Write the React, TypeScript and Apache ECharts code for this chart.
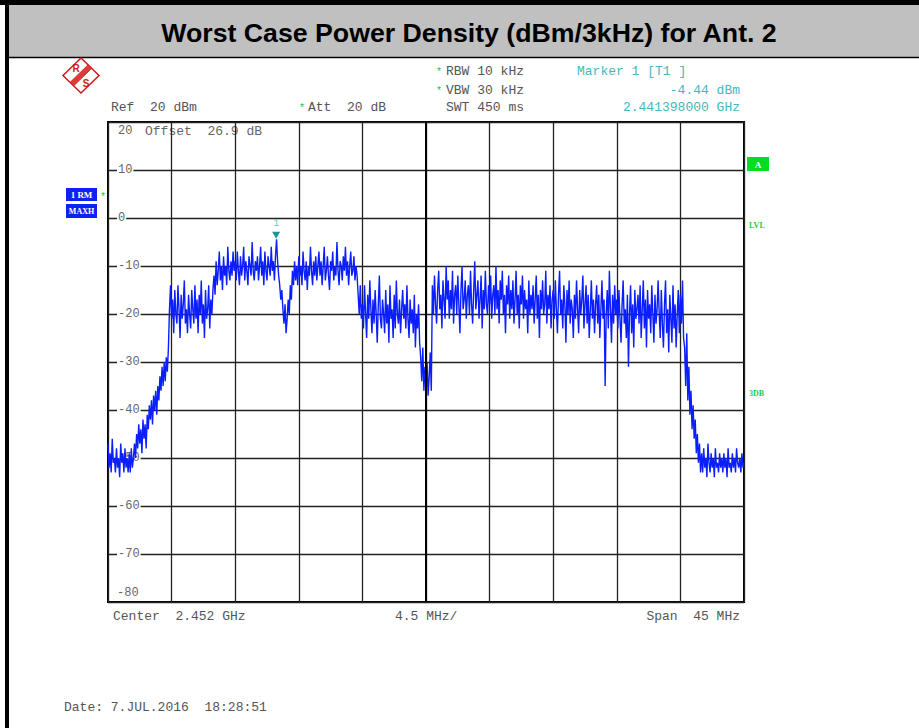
import React, { useEffect, useRef } from "react";
import * as echarts from "echarts";

// ---- data (dBm, one value every 0.075 MHz from the start of the 45 MHz span) ----
const STEP_MHZ = 0.075;
const SPAN_MHZ = 45;
const tr00 = [-47, -52, -49, -53, -46, -51, -50, -53, -48, -52, -50, -54, -47, -51, -49, -53, -48, -52, -50, -53];
const tr01 = [-49, -53, -48, -52, -50, -47, -50, -45, -48, -43, -47, -44, -49, -42, -46, -43, -48, -41, -44, -39];
const tr02 = [-42, -38, -43, -37, -40, -36, -41, -35, -38, -33, -36, -31, -35, -30, -34, -29, -32, -27, -19, -14];
const tr03 = [-21, -17, -24, -15, -20, -22, -14, -19, -25, -16, -21, -18, -13, -22, -19, -24, -16, -20, -23, -15];
const tr04 = [-19, -22, -14, -21, -17, -24, -16, -20, -13, -22, -18, -25, -15, -21, -19, -14, -23, -17, -20, -15];
const tr05 = [-12, -16, -9, -14, -11, -7, -13, -10, -15, -8, -12, -10, -14, -6, -11, -13, -9, -12, -7, -11];
const tr06 = [-9, -13, -7, -11, -14, -8, -12, -10, -6, -13, -9, -11, -14, -8, -10, -12, -5, -11, -13, -9];
const tr07 = [-11, -8, -13, -10, -6, -12, -9, -14, -7, -11, -13, -8, -10, -12, -6, -11, -9, -13, -8, -4.44];
const tr08 = [-9, -12, -14, -17, -15, -19, -22, -18, -24, -21, -17, -20, -14, -17, -11, -14, -9, -13, -10, -14];
const tr09 = [-8, -12, -10, -14, -7, -11, -13, -9, -15, -10, -12, -6, -11, -14, -9, -12, -8, -13, -10, -7];
const tr10 = [-12, -9, -14, -10, -6, -13, -11, -8, -12, -15, -9, -11, -7, -13, -10, -12, -5, -11, -14, -9];
const tr11 = [-10, -13, -8, -11, -6, -12, -9, -14, -10, -7, -12, -11, -8, -13, -10, -12, -16, -20, -14, -21];
const tr12 = [-18, -23, -14, -20, -25, -16, -21, -13, -19, -24, -17, -22, -15, -20, -26, -18, -12, -21, -23, -17];
const tr13 = [-20, -24, -15, -22, -18, -26, -14, -21, -19, -25, -16, -23, -13, -20, -22, -17, -24, -19, -15, -21];
const tr14 = [-18, -23, -14, -21, -25, -17, -22, -19, -24, -16, -27, -20, -23, -18, -26, -29, -34, -27, -36, -31];
const tr15 = [-35, -30, -37, -33, -28, -36, -14, -20, -12, -18, -22, -15, -11, -19, -16, -23, -13, -17, -21, -10];
const tr16 = [-17, -13, -21, -15, -19, -11, -22, -16, -14, -20, -12, -18, -24, -15, -10, -19, -17, -13, -21, -16];
const tr17 = [-14, -20, -11, -18, -22, -15, -9, -19, -16, -13, -21, -17, -12, -23, -15, -19, -11, -18, -20, -14];
const tr18 = [-18, -12, -21, -16, -14, -20, -10, -19, -15, -22, -13, -17, -11, -20, -16, -24, -14, -18, -12, -21];
const tr19 = [-15, -19, -13, -22, -17, -11, -20, -16, -23, -14, -18, -12, -21, -15, -19, -17, -24, -13, -20, -16];
const tr20 = [-19, -14, -22, -17, -12, -21, -16, -25, -15, -19, -13, -20, -18, -11, -22, -16, -19, -14, -23, -17];
const tr21 = [-15, -21, -13, -19, -24, -16, -11, -20, -17, -23, -14, -18, -26, -15, -20, -13, -22, -17, -19, -25];
const tr22 = [-16, -21, -13, -19, -24, -15, -20, -17, -12, -23, -18, -14, -22, -16, -25, -19, -13, -21, -17, -24];
const tr23 = [-18, -14, -22, -16, -25, -19, -13, -21, -17, -35, -20, -15, -23, -11, -19, -26, -16, -22, -14, -20];
const tr24 = [-17, -23, -15, -21, -26, -18, -13, -22, -19, -25, -16, -31, -20, -14, -24, -18, -27, -15, -21, -19];
const tr25 = [-16, -22, -14, -25, -19, -13, -23, -17, -27, -15, -21, -18, -24, -14, -20, -26, -16, -22, -19, -13];
const tr26 = [-20, -25, -15, -22, -27, -18, -13, -24, -19, -28, -16, -21, -26, -14, -23, -18, -27, -20, -15, -24];
const tr27 = [-16, -22, -13, -25, -27, -35, -24, -38, -31, -41, -36, -44, -39, -46, -42, -49, -45, -51, -47, -53];
const tr28 = [-49, -53, -48, -52, -50, -54, -47, -51, -53, -49, -52, -50, -54, -48, -52, -51, -53, -49, -52, -50];
const tr29 = [-53, -49, -52, -50, -54, -48, -52, -51, -53, -49, -52, -50, -53, -48, -51, -52, -50, -53, -49, -52, -51];

const yTicks = [20, 10, 0, -10, -20, -30, -40, -50, -60, -70, -80];
const markerFreqMHz = 11.898; // 2.441398 GHz - 2.4295 GHz
const markerLevel = -4.44;
const centerLineMHz = 22.5;

const MONO = '"Liberation Mono", "DejaVu Sans Mono", monospace';
const GRAY = "#555555";
const CYAN = "#45b6c2";
const GREEN = "#10cc30";

function txt(text: string, x: number, y: number, opts: any = {}) {
  return {
    type: "text",
    z: opts.z ?? 10,
    style: {
      text,
      x,
      y,
      fill: opts.fill ?? GRAY,
      font: opts.font ?? `13px ${MONO}`,
      align: opts.align ?? "left",
      verticalAlign: "middle",
      textAlign: opts.align ?? "left",
      textVerticalAlign: "middle",
    },
  };
}

export default function App() {
  const ref = useRef<HTMLDivElement>(null);
  useEffect(() => {
    if (!ref.current) return;
    const chart = echarts.init(ref.current, null, { renderer: "svg" });
    const trace = [
      ...tr00, ...tr01, ...tr02, ...tr03, ...tr04, ...tr05, ...tr06, ...tr07, ...tr08, ...tr09,
      ...tr10, ...tr11, ...tr12, ...tr13, ...tr14, ...tr15, ...tr16, ...tr17, ...tr18, ...tr19,
      ...tr20, ...tr21, ...tr22, ...tr23, ...tr24, ...tr25, ...tr26, ...tr27, ...tr28, ...tr29,
    ];
    const data = trace.map((v, i) => [Math.min(SPAN_MHZ, +(i * STEP_MHZ).toFixed(3)), v]);

    const graphic: any[] = [
      { type: "rect", z: 1, shape: { x: 0, y: 0, width: 919, height: 5 }, style: { fill: "#000" } },
      { type: "rect", z: 1, shape: { x: 5, y: 0, width: 4, height: 728 }, style: { fill: "#000" } },
      { type: "rect", z: 1, shape: { x: 9, y: 5, width: 910, height: 52 }, style: { fill: "#c0c0c0" } },
      { type: "line", z: 2, shape: { x1: 9, y1: 57.5, x2: 919, y2: 57.5 }, style: { stroke: "#000", lineWidth: 1.5 } },
      txt("Worst Case Power Density (dBm/3kHz) for Ant. 2", 469, 33, {
        font: 'bold 26.7px "Liberation Sans", Arial, sans-serif',
        fill: "#000",
        align: "center",
      }),
      // R&S logo
      {
        type: "polygon", z: 5,
        shape: { points: [[81, 58], [99, 75.5], [81, 93], [63, 75.5]] },
        style: { fill: "none", stroke: "#d01818", lineWidth: 1.5 },
      },
      {
        type: "polygon", z: 5,
        shape: { points: [[88.2, 64.7], [91.8, 68.3], [73.8, 85.8], [70.2, 82.2]] },
        style: { fill: "#e03a3a", stroke: "#d01818", lineWidth: 0.8 },
      },
      txt("R", 76, 68, { font: 'bold 10px "Liberation Sans", sans-serif', fill: "#d01818", align: "center" }),
      txt("S", 86, 83, { font: 'bold 10px "Liberation Sans", sans-serif', fill: "#d01818", align: "center" }),
      // header texts
      txt("*", 436, 72, { fill: GREEN, font: `10px ${MONO}` }),
      txt("RBW 10 kHz", 446, 71),
      txt("*", 436, 91, { fill: GREEN, font: `10px ${MONO}` }),
      txt("VBW 30 kHz", 446, 90),
      txt("SWT 450 ms", 446, 107),
      txt("Marker 1 [T1 ]", 577, 71, { fill: CYAN }),
      txt("-4.44 dBm", 740, 90, { fill: CYAN, align: "right" }),
      txt("2.441398000 GHz", 740, 107, { fill: CYAN, align: "right" }),
      txt("Ref  20 dBm", 111, 107),
      txt("*", 299, 108, { fill: GREEN, font: `10px ${MONO}` }),
      txt("Att  20 dB", 308, 107),
      // inside the plot
      txt("20", 118, 131, { fill: "#666", font: `12px ${MONO}`, z: 0 }),
      txt("Offset  26.9 dB", 145, 131, { fill: "#666", z: 0 }),
      txt("-80", 117, 593, { fill: "#666", font: `12px ${MONO}`, z: 0 }),
      // bottom texts
      txt("Center  2.452 GHz", 113, 616),
      txt("4.5 MHz/", 395, 616),
      txt("Span  45 MHz", 740, 616, { align: "right" }),
      txt("Date: 7.JUL.2016  18:28:51", 64, 707),
      // left trace labels
      { type: "rect", z: 5, shape: { x: 66, y: 188, width: 31, height: 13 }, style: { fill: "#0b22f2" } },
      txt("1 RM", 81.5, 195, { fill: "#fff", font: 'bold 9px "Liberation Serif", serif', align: "center" }),
      { type: "rect", z: 5, shape: { x: 66, y: 204, width: 31, height: 14 }, style: { fill: "#0b22f2" } },
      txt("MAXH", 81.5, 211.5, { fill: "#fff", font: 'bold 8px "Liberation Serif", serif', align: "center" }),
      txt("*", 100, 197, { fill: GREEN, font: `10px ${MONO}` }),
      // right side labels
      { type: "rect", z: 5, shape: { x: 747, y: 157, width: 22, height: 14 }, style: { fill: "#00dd22" } },
      txt("A", 758, 164.5, { fill: "#fff", font: 'bold 9px "Liberation Serif", serif', align: "center" }),
      txt("LVL", 749, 225.5, { fill: "#22cc44", font: 'bold 8px "Liberation Serif", serif' }),
      txt("3DB", 749, 393, { fill: "#22cc44", font: 'bold 8px "Liberation Serif", serif' }),
    ];

    chart.setOption({
      animation: false,
      backgroundColor: "#ffffff",
      grid: {
        left: 108, top: 122, width: 636, height: 480,
        show: true, borderColor: "#000", borderWidth: 2, backgroundColor: "transparent",
      },
      xAxis: {
        type: "value", min: 0, max: SPAN_MHZ, interval: SPAN_MHZ / 10,
        axisLine: { show: false }, axisTick: { show: false }, axisLabel: { show: false },
        splitLine: { show: true, lineStyle: { color: "#222", width: 1.3 } },
      },
      yAxis: {
        type: "value", min: yTicks[yTicks.length - 1], max: yTicks[0], interval: 10,
        axisLine: { show: false }, axisTick: { show: false },
        axisLabel: {
          inside: true, margin: 9, showMinLabel: false, showMaxLabel: false,
          color: "#666", fontFamily: MONO, fontSize: 12,
          backgroundColor: "#fff", padding: [0, 1],
        },
        splitLine: { show: true, lineStyle: { color: "#222", width: 1.3 } },
      },
      series: [
        {
          type: "line",
          data,
          symbol: "none",
          z: 3,
          lineStyle: { color: "#0a1eff", width: 1.4 },
          markLine: {
            silent: true,
            symbol: ["none", "none"],
            label: { show: false },
            lineStyle: { color: "#000", width: 2, type: "solid" },
            data: [{ xAxis: centerLineMHz }],
          },
          markPoint: {
            silent: true,
            symbol: "path://M0,0 L10,0 L5,8 Z",
            symbolSize: [8, 7],
            symbolOffset: [0, -4],
            itemStyle: { color: "#189a9a" },
            label: { show: true, position: "top", distance: 3, formatter: "1", color: "#6cc8c8", fontSize: 10, fontFamily: MONO },
            data: [{ coord: [markerFreqMHz, markerLevel] }],
          },
        },
      ],
      graphic,
    });
    return () => chart.dispose();
  }, []);
  return (
    <div
      ref={ref}
      style={{ position: "absolute", left: 0, top: 0, width: 919, height: 728, background: "#fff" }}
    />
  );
}
